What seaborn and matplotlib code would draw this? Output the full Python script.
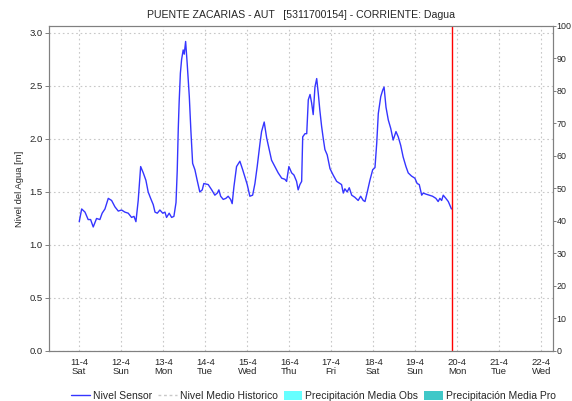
import numpy as np
import pandas as pd
import matplotlib
matplotlib.use("Agg")
import matplotlib.pyplot as plt
import seaborn as sns
from matplotlib.lines import Line2D
from matplotlib.patches import Patch

# hours since 11-4 00:00
hours = [0, 1.4, 3.3, 5.1, 6.5, 8.0, 9.9, 11.8, 13.1, 14.7, 16.6, 18.5, 20.4, 22.3,
         24.2, 26.1, 28.0, 29.9, 31.3, 32.4, 33.7, 35.1, 36.6, 38.1, 39.4, 40.8, 42.3,
         43.3, 44.6, 46.1, 47.7, 49.0, 49.9, 51.4, 52.8, 54.1, 55.3, 56.0, 56.6, 57.1,
         57.8, 58.5, 59.4, 60.0, 60.8, 61.7, 62.9, 63.8, 64.8, 66.1, 67.4, 68.9, 70.3,
         71.2, 73.7, 75.7, 77.5, 78.9, 79.8, 80.8, 82.3, 83.8, 85.1, 86.5, 87.4, 88.4,
         89.9, 91.8, 93.4, 94.7, 96.0, 97.5, 99.1, 100.4, 101.7, 103.3, 104.2, 105.7,
         107.1, 108.6, 109.9, 111.8, 113.7, 115.7, 117.5, 118.5, 119.8, 121.4, 122.7,
         124.2, 125.1, 126.1, 127.1, 127.7, 129.0, 130.0, 130.9, 131.9, 132.8, 133.7,
         134.7, 135.7, 136.6, 137.5, 138.5, 139.4, 140.4, 141.7, 143.3, 145.1, 147.1,
         149.0, 149.9, 150.9, 151.8, 153.1, 154.3, 155.7, 157.5, 159.4, 160.8, 162.3,
         163.3, 164.6, 166.1, 167.7, 169.0, 170.0, 170.9, 172.3, 173.4, 174.2, 175.3,
         176.6, 178.0, 179.4, 181.0, 182.3, 183.7, 185.1, 186.7, 188.0, 189.9, 191.8,
         193.1, 194.3, 195.7, 196.6, 198.1, 200.0, 201.9, 203.8, 205.1, 206.1, 207.1,
         208.0, 209.5, 210.9, 212.2, 212.7]
nivel = [1.22, 1.34, 1.31, 1.24, 1.24, 1.17, 1.25, 1.24, 1.30, 1.34, 1.44, 1.42, 1.36, 1.32,
         1.33, 1.31, 1.30, 1.26, 1.27, 1.22, 1.42, 1.74, 1.68, 1.61, 1.50, 1.44, 1.38,
         1.31, 1.30, 1.33, 1.30, 1.31, 1.26, 1.30, 1.26, 1.27, 1.40, 1.70, 2.10, 2.35,
         2.62, 2.75, 2.84, 2.80, 2.92, 2.71, 2.40, 2.08, 1.77, 1.71, 1.61, 1.50, 1.52,
         1.58, 1.57, 1.52, 1.47, 1.49, 1.52, 1.46, 1.43, 1.44, 1.46, 1.43, 1.39, 1.55,
         1.74, 1.79, 1.71, 1.64, 1.57, 1.46, 1.47, 1.58, 1.74, 1.96, 2.07, 2.16,
         2.01, 1.90, 1.80, 1.74, 1.68, 1.63, 1.62, 1.60, 1.74, 1.68, 1.66,
         1.60, 1.52, 1.57, 1.60, 2.02, 2.05, 2.05, 2.37, 2.42, 2.34, 2.23,
         2.49, 2.57, 2.43, 2.27, 2.12, 2.01, 1.90, 1.85, 1.72, 1.66, 1.60,
         1.58, 1.57, 1.49, 1.53, 1.50, 1.54, 1.47, 1.45, 1.42, 1.46, 1.42,
         1.41, 1.50, 1.61, 1.71, 1.73, 1.96, 2.24, 2.40, 2.46, 2.49, 2.30,
         2.18, 2.10, 1.99, 2.07, 2.02, 1.94, 1.83, 1.74, 1.68, 1.65, 1.63,
         1.58, 1.57, 1.47, 1.49, 1.48, 1.47, 1.46, 1.44, 1.41, 1.44, 1.42,
         1.47, 1.44, 1.41, 1.36, 1.34]
day_labels = ["11-4\nSat", "12-4\nSun", "13-4\nMon", "14-4\nTue", "15-4\nWed", "16-4\nThu",
              "17-4\nFri", "18-4\nSat", "19-4\nSun", "20-4\nMon", "21-4\nTue", "22-4\nWed"]
now_hour = 213.0
title = "PUENTE ZACARIAS - AUT   [5311700154] - CORRIENTE: Dagua"

df = pd.DataFrame({"hora": hours, "nivel": nivel})

sns.set_style("white")
plt.rcParams["font.family"] = ["Liberation Sans", "DejaVu Sans"]

fig = plt.figure(figsize=(5.72, 4.01), dpi=100)
ax = fig.add_axes([0.0862, 0.1247, 0.9673 - 0.0862, 0.9352 - 0.1247])

sns.lineplot(data=df, x="hora", y="nivel", ax=ax, color="#3535FF", linewidth=1.0)
ax.axvline(now_hour, color="#FF0000", linewidth=1.0)

fs = 6.8
ax.set_xlim(-17.1, 270.9)
ax.set_ylim(0, 3.066)
ax.set_yticks(np.arange(0, 3.01, 0.5))
ax.set_yticklabels([f"{v:.1f}" for v in np.arange(0, 3.01, 0.5)], fontsize=fs)
ax.set_xticks([24 * i for i in range(len(day_labels))])
ax.set_xticklabels(day_labels, fontsize=fs, linespacing=1.05)
ax.set_xticks(np.arange(-17, 271, 1), minor=True)
ax.set_xlabel("")
ax.set_ylabel("Nivel del Agua [m]", fontsize=fs, labelpad=4)

ax.grid(True, which="major", color="#C8C8C8", linestyle=(0, (1.5, 2.5)), linewidth=0.8)
for s in ax.spines.values():
    s.set_color("#808080")
    s.set_linewidth(0.8)
ax.tick_params(axis="y", which="major", length=3, width=0.7, color="#808080", pad=2)
ax.tick_params(axis="x", which="major", length=0, pad=5)
ax.tick_params(axis="x", which="minor", length=1.5, width=0.5, color="#808080")

ax2 = ax.twinx()
ax2.set_ylim(0, 100)
ax2.set_yticks(range(0, 101, 10))
ax2.set_yticklabels([str(v) for v in range(0, 101, 10)], fontsize=6.4)
ax2.tick_params(axis="y", length=2.2, width=0.7, color="#808080", pad=0.3)
for s in ax2.spines.values():
    s.set_color("#808080")
    s.set_linewidth(0.8)
ax2.grid(False)

fig.text(0.527, 0.962, title, ha="center", va="center", fontsize=7.6)

handles = [
    Line2D([], [], color="#3535FF", linewidth=1.0),
    Line2D([], [], color="#C8C8C8", linewidth=1.0, linestyle=(0, (2, 2))),
    Patch(facecolor="#66FFFF", edgecolor="none"),
    Patch(facecolor="#40C8C8", edgecolor="none"),
]
labels = ["Nivel Sensor", "Nivel Medio Historico", "Precipitación Media Obs", "Precipitación Media Pro"]
fig.legend(handles, labels, loc="center", bbox_to_anchor=(0.548, 0.013), ncol=4, frameon=False,
           fontsize=7.5, handlelength=1.8, handleheight=0.9, handletextpad=0.25, columnspacing=0.6,
           borderaxespad=0, borderpad=0)

fig.savefig("out.png", dpi=100)
